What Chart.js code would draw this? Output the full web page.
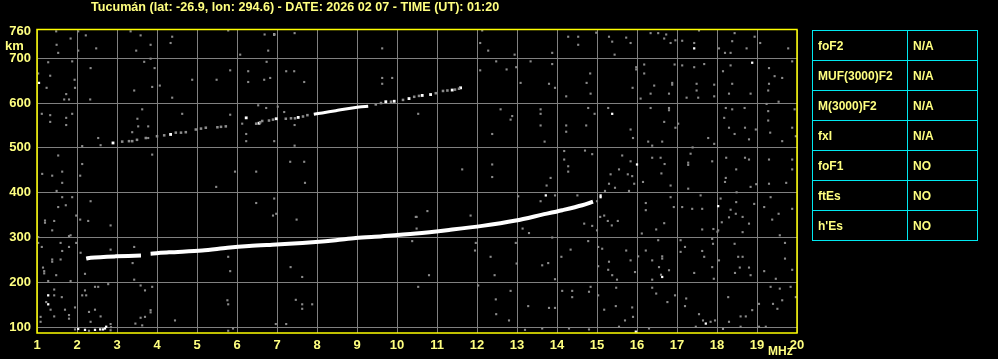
<!DOCTYPE html>
<html>
<head>
<meta charset="utf-8">
<script src="https://cdn.jsdelivr.net/npm/chart.js@4.4.1/dist/chart.umd.min.js"></script>
<style>
  html, body { margin: 0; padding: 0; background: #000; }
  body { width: 998px; height: 359px; position: relative; overflow: hidden;
         font-family: "Liberation Sans", Arial, sans-serif; font-weight: bold; }
  #chart { position: absolute; left: 0; top: 0; }
  .lbl { position: absolute; color: #ffff80; font-size: 12px; white-space: nowrap; line-height: 1; }
  #title { left: 91px; top: 1px; font-size: 12.6px; }
  #km { left: 5px; top: 39px; font-size: 13px; }
  #mhz { left: 768px; top: 345px; font-size: 12px; }
  #params { position: absolute; left: 812px; top: 30px; border-collapse: collapse; }
  #params td { border: 1px solid #00e8f0; height: 29px; padding: 0 0 0 5px;
               color: #ffff80; font-size: 12px; vertical-align: middle; }
  #params td.k { width: 89px; }
  #params td.v { width: 64px; }
</style>
</head>
<body>
<canvas id="chart" width="998" height="359"></canvas>
<div class="lbl" id="title">Tucumán (lat: -26.9, lon: 294.6) - DATE: 2026 02 07 - TIME (UT): 01:20</div>
<div class="lbl" id="km">km</div>
<div class="lbl" id="mhz">MHz</div>
<table id="params"><tbody id="params-body"></tbody></table>
<script>
// axes
const freqTicks = [1, 2, 3, 4, 5, 6, 7, 8, 9, 10, 11, 12, 13, 14, 15, 16, 17, 18, 19, 20];
const heightTicks = [100, 200, 300, 400, 500, 600, 700, 760];

// scaled parameters table
const paramNames = ['foF2', 'MUF(3000)F2', 'M(3000)F2', 'fxI', 'foF1', 'ftEs', "h'Es"];
const paramValues = ['N/A', 'N/A', 'N/A', 'N/A', 'NO', 'NO', 'NO'];

// F2 trace (MHz, km) - null marks the gap around 3.7 MHz
const lowerTrace = [
  [2.23, 253], [2.34, 255], [2.97, 258], [3.6, 260], [3.7, null],
  [3.84, 264], [4.3, 267], [5.13, 271], [5.76, 277], [6.3, 281], [6.88, 284],
  [7.3, 286], [7.97, 290], [8.47, 294], [8.97, 299], [9.63, 303], [10.47, 309],
  [11.3, 317], [12.13, 326], [12.97, 338], [13.63, 351], [14.13, 361],
  [14.63, 372], [14.9, 380]
];

// second hop, bright part
const upperTraceBright = [
  [7.92, 575], [8.13, 578], [8.47, 583], [8.8, 588], [9.05, 591], [9.28, 593]
];
// second hop, dotted part
const upperTraceDots = [
  [3.13, 514], [3.3, 515], [3.38, 515], [3.5, 518], [3.72, 522], [4.0, 526], [4.18, 528],
  [4.47, 534], [4.6, 534], [4.72, 535], [4.97, 541], [5.1, 543], [5.22, 545], [5.51, 546],
  [5.6, 547], [5.72, 548], [6.48, 554], [6.58, 557], [6.63, 560], [6.8, 561], [6.9, 563],
  [7.22, 565], [7.35, 566], [7.45, 566], [7.65, 570], [7.76, 573], [9.47, 597], [9.6, 600],
  [9.85, 603], [10.15, 607], [10.43, 614], [10.55, 616], [10.97, 622], [11.15, 627],
  [11.26, 628], [11.45, 630], [11.55, 632]
];
const upperTraceSpots = [
  [2.9, 511], [4.34, 530], [6.23, 567], [6.55, 555], [6.98, 565], [7.53, 568],
  [9.72, 603], [9.93, 604], [10.3, 610], [10.63, 617], [10.84, 619], [11.38, 629], [11.59, 634]
];

// background noise (MHz, km)
const noiseGray = [
  [1.48, 760], [2.03, 760], [2.22, 751], [1.84, 744], [1.49, 730], [1.53, 712], [2.03, 717],
  [2.48, 722], [3.34, 760], [3.59, 751], [3.84, 730], [3.48, 717], [4.38, 748], [4.34, 734],
  [3.68, 692], [3.84, 699], [3.94, 678], [1.28, 691], [1.88, 693], [2.34, 678], [1.03, 666],
  [1.33, 661], [1.94, 652], [1.24, 634], [1.95, 634], [1.73, 620], [1.68, 608], [1.8, 608],
  [2.33, 608], [3.43, 628], [3.88, 636], [4.07, 639], [4.38, 612], [4.88, 652], [5.49, 652],
  [5.83, 673], [5.78, 762], [6.08, 708], [6.69, 753], [6.93, 753], [6.78, 717], [6.74, 692],
  [7.44, 756], [6.28, 671], [6.28, 647], [6.68, 652], [6.83, 656], [7.23, 671], [7.43, 671],
  [7.68, 647], [9.63, 722], [9.63, 656], [9.88, 656], [9.63, 643], [1.12, 576], [1.33, 573],
  [1.33, 558], [1.73, 567], [1.73, 551], [1.88, 576], [3.63, 586], [3.51, 565], [3.53, 548],
  [3.78, 548], [3.38, 535], [3.78, 522], [2.53, 522], [2.13, 504], [2.59, 506], [4.63, 576],
  [5.83, 574], [6.13, 554], [6.23, 531], [6.23, 515], [6.93, 515], [7.44, 551], [7.44, 505],
  [6.53, 595], [6.73, 589], [7.02, 592], [7.18, 580], [1.53, 483], [3.88, 485], [2.13, 464],
  [1.13, 442], [1.38, 438], [1.63, 447], [2.08, 438], [5.95, 447], [6.48, 447], [7.33, 469],
  [7.68, 469],
  [12.13, 762], [12.08, 734], [12.28, 717], [12.94, 708], [13.88, 712], [14.28, 748],
  [14.53, 748], [14.53, 730], [14.98, 757], [15.3, 748], [15.38, 737], [15.73, 746],
  [15.84, 734], [15.44, 708], [16.34, 756], [16.53, 756], [16.73, 753], [16.68, 744],
  [16.84, 734], [16.96, 740], [17.13, 739], [17.55, 762], [17.43, 734], [18.05, 722],
  [18.2, 712], [18.34, 712], [18.44, 756], [18.38, 738], [18.74, 722], [18.94, 748],
  [19.08, 734], [19.78, 722], [12.08, 673], [12.48, 693], [12.74, 675], [12.98, 680],
  [13.88, 687], [13.34, 693], [13.09, 645], [13.8, 643], [13.95, 634], [14.23, 615],
  [14.83, 666], [14.74, 645], [14.84, 621], [15.98, 680], [15.98, 675], [16.18, 686], [16.18, 666],
  [15.89, 634], [16.09, 610], [16.43, 639], [16.34, 621], [16.8, 621], [16.94, 686],
  [16.88, 641], [16.88, 645], [17.13, 684], [17.43, 680], [17.49, 643], [17.49, 628], [17.24, 612],
  [17.53, 612], [17.68, 687], [17.93, 641], [17.93, 615], [18.15, 671], [18.34, 684],
  [18.38, 643], [18.3, 621], [19.3, 678], [19.44, 660], [19.63, 656], [19.3, 643],
  [19.28, 628], [18.84, 621], [19.54, 603], [19.88, 693], [10.53, 576], [12.59, 586],
  [12.88, 571], [12.84, 563], [12.38, 531], [13.59, 586], [13.59, 576], [13.59, 550],
  [13.69, 514], [14.23, 550], [14.23, 536], [14.73, 550], [14.78, 589], [14.94, 576],
  [15.28, 589], [15.84, 541], [15.9, 522], [16.34, 589], [16.68, 558], [16.8, 589],
  [16.8, 584], [17.03, 554], [16.96, 545], [16.63, 514], [16.28, 514], [16.38, 505], [17.39, 501],
  [17.78, 522], [17.93, 509], [18.18, 567], [18.22, 589], [18.38, 586], [18.3, 545],
  [18.44, 531], [18.7, 545], [18.69, 589], [18.8, 519], [18.97, 541], [19.24, 598],
  [19.28, 582], [19.28, 561], [19.33, 534], [19.63, 515], [19.88, 545], [19.94, 586],
  [19.97, 526], [14.18, 493], [14.18, 474], [14.28, 459], [14.28, 447], [14.7, 494],
  [14.88, 486], [15.34, 441], [15.63, 483], [15.55, 452], [15.77, 441], [15.84, 470],
  [15.88, 437], [16.38, 478], [16.59, 478], [16.69, 464], [16.61, 443], [17.28, 467],
  [17.28, 462], [17.34, 487], [17.88, 470], [18.23, 478], [18.48, 452], [18.7, 478], [18.8, 474],
  [19.88, 474], [19.88, 452], [18.22, 433], [19.3, 474], [11.63, 452], [12.38, 463],
  [12.38, 435], [13.84, 433],
  [1.63, 422], [1.49, 404], [1.63, 390], [1.88, 390], [1.72, 372], [1.53, 368], [2.34, 381],
  [1.98, 349], [2.08, 340], [2.28, 337], [1.43, 337], [1.2, 338], [1.2, 333], [1.38, 316], [1.8, 303],
  [1.84, 305], [2.84, 327], [1.03, 301], [1.59, 288], [1.8, 279], [1.98, 288], [1.63, 270],
  [2.09, 266], [1.38, 251], [1.38, 246], [1.59, 251], [1.15, 233], [1.18, 225], [1.18, 220], [1.48, 216],
  [1.84, 203], [1.28, 203], [2.2, 219], [2.84, 273], [3.43, 279], [3.39, 243], [3.43, 206],
  [5.48, 413], [6.48, 377], [6.93, 387], [6.98, 353], [6.9, 349], [7.49, 340], [7.7, 422],
  [5.78, 257], [5.83, 225], [7.34, 234], [7.63, 212], [10.49, 346], [10.49, 320],
  [10.38, 292], [1.03, 288], [1.12, 279], [1.43, 184], [1.43, 171], [1.62, 167], [1.23, 156],
  [1.34, 139], [1.43, 124], [1.09, 123], [1.09, 112], [1.8, 127], [1.8, 119], [1.95, 144],
  [1.7, 139], [2.13, 171], [2.23, 171], [2.2, 182], [2.45, 190], [2.53, 190], [2.78, 196],
  [2.3, 134], [2.45, 139], [2.59, 124], [2.34, 112], [2.84, 107], [3.59, 193], [3.88, 190],
  [3.7, 182], [3.84, 138], [3.84, 133], [3.59, 121], [3.7, 123], [3.46, 108], [3.63, 104], [4.45, 115],
  [5.78, 92], [5.9, 97], [6.97, 107], [7.23, 107], [7.63, 141], [7.88, 151], [7.63, 151],
  [7.47, 161], [5.76, 160], [5.78, 151], [1.95, 95], [2.3, 92], [2.84, 93], [2.85, 100],
  [13.74, 416], [13.95, 394], [14.51, 394], [13.03, 392], [13.59, 381], [15.3, 420],
  [15.45, 411], [15.8, 404], [16.15, 424], [15.93, 420], [15.2, 404], [15.0, 381],
  [15.18, 349], [14.68, 331], [14.88, 326], [15.0, 316], [15.08, 346], [15.27, 337],
  [15.37, 327], [15.52, 337], [16.22, 377], [16.22, 361], [16.12, 309], [16.48, 318],
  [16.68, 332], [16.84, 416], [16.84, 390], [16.92, 368], [17.13, 368], [17.38, 364],
  [17.63, 364], [17.59, 394], [17.28, 409], [18.2, 424], [18.09, 387], [18.49, 401],
  [18.48, 379], [18.34, 362], [18.47, 353], [18.3, 345], [18.12, 334], [17.91, 319],
  [18.01, 313], [17.63, 318], [18.84, 413], [18.98, 419], [18.93, 375], [19.3, 420],
  [19.73, 422], [19.34, 390], [19.18, 368], [19.54, 353], [19.88, 364], [19.38, 340],
  [19.57, 305], [18.64, 346], [18.64, 312], [18.8, 331], [10.47, 346], [10.76, 359],
  [11.84, 349], [12.97, 288], [11.97, 288], [11.95, 271], [12.34, 257], [13.14, 320],
  [13.3, 310], [13.88, 300], [14.11, 257], [14.34, 273], [13.78, 243], [13.63, 238],
  [12.99, 242], [12.44, 216], [13.95, 207], [14.78, 292], [15.03, 279], [15.03, 236],
  [15.13, 275], [15.3, 246], [15.28, 228], [15.38, 216], [15.5, 206], [15.73, 271],
  [15.84, 249], [15.95, 223], [16.03, 258], [16.22, 271], [16.38, 249], [16.63, 258],
  [16.63, 253], [16.55, 234], [16.6, 217], [16.38, 206], [16.53, 294], [16.8, 227], [17.09, 294],
  [17.09, 268], [17.2, 279], [17.43, 221], [17.63, 270], [17.68, 257], [17.88, 297],
  [17.9, 286], [18.03, 316], [18.05, 249], [17.88, 234], [17.92, 208], [18.44, 286],
  [18.53, 257], [18.64, 257], [18.57, 233], [18.45, 221], [18.8, 233], [18.84, 216],
  [19.18, 225], [19.47, 208], [19.7, 253], [19.7, 288], [19.88, 228], [10.8, 216],
  [10.53, 190], [12.03, 193], [12.84, 181], [12.47, 162], [12.48, 129], [12.8, 115],
  [13.28, 147], [13.8, 143], [13.95, 143], [14.13, 181], [14.38, 181], [14.38, 167],
  [14.84, 190], [14.8, 179], [15.03, 171], [15.48, 188], [15.47, 147], [15.18, 139],
  [15.88, 144], [15.9, 123], [15.7, 115], [16.38, 188], [16.48, 175], [16.76, 156],
  [16.95, 171], [17.2, 147], [17.23, 164], [17.55, 129], [17.65, 115], [17.95, 115],
  [17.84, 112], [18.28, 167], [18.3, 112], [18.59, 124], [18.72, 124], [18.88, 138],
  [19.05, 152], [19.34, 190], [19.4, 152], [19.51, 141], [19.57, 186], [19.63, 160],
  [19.84, 190], [19.97, 167], [19.22, 101], [19.05, 101], [18.59, 101], [18.15, 96],
  [17.47, 101], [16.3, 97], [15.55, 101], [14.8, 95], [13.63, 97], [13.2, 94], [14.3, 97]
];
const noiseWhite = [
  [1.05, 645], [6.93, 753], [17.43, 722], [18.88, 690], [15.38, 576], [16.0, 463],
  [1.28, 171], [1.28, 151], [2.03, 96], [2.2, 94], [2.45, 94], [2.58, 95], [2.65, 95],
  [2.7, 97], [2.73, 101], [13.72, 394], [15.09, 394], [15.09, 390], [18.03, 370],
  [16.63, 212], [17.72, 108], [15.97, 90]
];

const yellow = '#ffff80';
const tickFont = { family: '"Liberation Sans", Arial, sans-serif', size: 13, weight: 'bold' };
const toXY = pts => pts.map(p => ({ x: p[0], y: p[1] }));

// fill the parameters table
document.getElementById('params-body').innerHTML = paramNames.map((n, i) =>
  `<tr><td class="k">${n}</td><td class="v">${paramValues[i]}</td></tr>`
).join('');

// yellow frame round the plot area
const frame = {
  id: 'frame',
  afterDraw(chart) {
    const { ctx, chartArea: a } = chart;
    ctx.save();
    ctx.strokeStyle = '#ffff00';
    ctx.lineWidth = 1.5;
    ctx.strokeRect(a.left, a.top - 0.5, a.right - a.left, a.bottom - a.top + 0.5);
    ctx.restore();
  }
};

new Chart(document.getElementById('chart'), {
  type: 'scatter',
  data: {
    datasets: [
      { data: toXY(noiseGray), pointStyle: 'rect', pointRadius: 1.5, borderWidth: 0,
        backgroundColor: '#8a8a8a' },
      { data: toXY(upperTraceDots), pointStyle: 'rect', pointRadius: 1.8, borderWidth: 0,
        backgroundColor: '#8c8c8c' },
      { data: toXY(noiseWhite), pointStyle: 'rect', pointRadius: 1.6, borderWidth: 0,
        backgroundColor: '#ffffff' },
      { data: toXY(upperTraceSpots), pointStyle: 'rect', pointRadius: 2, borderWidth: 0,
        backgroundColor: '#ffffff' },
      { data: toXY(upperTraceBright), showLine: true, pointRadius: 0, borderWidth: 3,
        borderColor: '#ffffff', tension: 0.3 },
      { data: toXY(lowerTrace), showLine: true, spanGaps: false, pointRadius: 0, borderWidth: 4,
        borderColor: '#ffffff', tension: 0.3 }
    ]
  },
  options: {
    responsive: false,
    animation: false,
    layout: { padding: { top: 30, right: 201, left: 0, bottom: 0 } },
    plugins: { legend: { display: false }, tooltip: { enabled: false } },
    scales: {
      x: {
        type: 'linear', min: 1, max: 20,
        afterBuildTicks: s => { s.ticks = freqTicks.map(v => ({ value: v })); },
        afterFit: s => { s.height = 26; },
        grid: { color: '#808080', drawTicks: false },
        border: { display: false },
        ticks: { color: yellow, font: tickFont, padding: 5, maxRotation: 0, autoSkip: false }
      },
      y: {
        type: 'linear', min: 87, max: 763,
        afterBuildTicks: s => { s.ticks = heightTicks.map(v => ({ value: v })); },
        afterFit: s => { s.width = 37; },
        grid: { color: c => c.tick && c.tick.value === 760 ? 'rgba(0,0,0,0)' : '#808080', drawTicks: false },
        border: { display: false },
        ticks: { color: yellow, font: tickFont, padding: 6, autoSkip: false }
      }
    }
  },
  plugins: [frame]
});
</script>
</body>
</html>
